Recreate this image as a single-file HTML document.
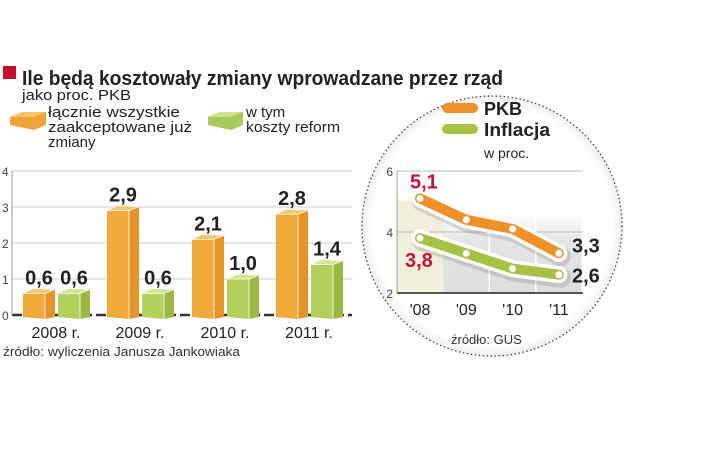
<!DOCTYPE html>
<html><head><meta charset="utf-8"><style>
html,body{margin:0;padding:0;background:#fff;}
svg{display:block;font-family:"Liberation Sans",sans-serif;}
</style></head><body>
<svg id="chart" width="720" height="456" viewBox="0 0 720 456">
<defs>
<radialGradient id="glow" cx="50%" cy="50%" r="50%"><stop offset="92%" stop-color="#fff"/><stop offset="100%" stop-color="#f0f0f0"/></radialGradient>
<linearGradient id="greyCol" x1="0" y1="0" x2="0" y2="1"><stop offset="0" stop-color="#fff"/><stop offset="0.35" stop-color="#e4e4e4"/><stop offset="1" stop-color="#dedede"/></linearGradient>
</defs>
<rect x="3" y="66" width="13" height="13" fill="#c8102e"/>
<text x="22" y="85" font-size="20" font-weight="bold" fill="#222" textLength="481" lengthAdjust="spacingAndGlyphs">Ile będą kosztowały zmiany wprowadzane przez rząd</text>
<text x="22" y="100" font-size="15" fill="#222" textLength="109" lengthAdjust="spacingAndGlyphs">jako proc. PKB</text>
<g>
<path d="M10,117 L22,112 L46,112 L46,125 L34,130 L10,125 Z" fill="#eea33b"/><path d="M10,117 L22,112 L46,112 L34,117 Z" fill="#f7c46a"/>
<text font-size="15" fill="#222"><tspan x="48" y="117" textLength="132" lengthAdjust="spacingAndGlyphs">łącznie wszystkie</tspan><tspan x="48" y="132" textLength="144" lengthAdjust="spacingAndGlyphs">zaakceptowane już</tspan><tspan x="48" y="147">zmiany</tspan></text>
</g>
<g>
<path d="M208,117 L220,112 L243,112 L243,125 L231,130 L208,125 Z" fill="#a9c95a"/><path d="M208,117 L220,112 L243,112 L231,117 Z" fill="#cfe38c"/>
<text font-size="15" fill="#222"><tspan x="246" y="117">w tym</tspan><tspan x="246" y="132" textLength="94" lengthAdjust="spacingAndGlyphs">koszty reform</tspan></text>
</g>
<g id="bars"></g>
<text x="3" y="356" font-size="13" fill="#333" textLength="237" lengthAdjust="spacingAndGlyphs">źródło: wyliczenia Janusza Jankowiaka</text>
<circle cx="492" cy="226" r="130" fill="url(#glow)" stroke="#444" stroke-width="1.3" stroke-dasharray="1.5 2.5"/>
<g>
<rect x="442" y="103" width="36" height="10" rx="5" fill="#ef9127"/>
<text x="484" y="115" font-size="18" font-weight="bold" fill="#222">PKB</text>
<rect x="442" y="124" width="36" height="10" rx="5" fill="#a8c043"/>
<text x="484" y="136" font-size="18" font-weight="bold" fill="#222" textLength="66" lengthAdjust="spacingAndGlyphs">Inflacja</text>
<text x="484" y="158" font-size="14" fill="#222">w proc.</text>
</g>
<g id="lines"></g>
<text x="451" y="344" font-size="13" fill="#333">źródło: GUS</text>
</svg>
<script>
const barYears = ['2008 r.', '2009 r.', '2010 r.', '2011 r.'];
const totalCosts = [0.6, 2.9, 2.1, 2.8];
const reformCosts = [0.6, 0.6, 1.0, 1.4];
const barTicks = [0, 1, 2, 3, 4];
const lineYears = ["'08", "'09", "'10", "'11"];
const gdp = [5.1, 4.4, 4.1, 3.3];
const inflation = [3.8, 3.3, 2.8, 2.6];
const lineTicks = [2, 4, 6];
const NS = 'http://www.w3.org/2000/svg';
function mk(tag, attrs, parent, txt) {
  const e = document.createElementNS(NS, tag);
  for (const k in attrs) e.setAttribute(k, attrs[k]);
  if (txt !== undefined) e.textContent = txt;
  parent.appendChild(e); return e;
}
const fmt = v => v.toFixed(1).replace('.', ',');
const bg = document.getElementById('bars');
const by = v => 315 - v * 36;
barTicks.forEach(t => {
  const l = mk('line', {x1: 12, x2: 352, y1: by(t), y2: by(t), stroke: t === 0 ? '#333' : '#ccc', 'stroke-width': t === 0 ? 2.5 : 1, 'stroke-dasharray': t === 0 ? '10 4' : ''}, bg);
  
  
  const tx = mk('text', {x: 2, y: by(t) + 5, 'font-size': 12, fill: '#444'}, bg, String(t));
  
  
});
mk('line', {x1: 12, x2: 12, y1: 171, y2: 315, stroke: '#999', 'stroke-width': 1}, bg);
const groupX = [23, 107, 192, 276];
function box(x, v, front, side, top, name) {
  const g = mk('g', {}, bg);
  
  
  const y = by(v), w = 32, fw = 22, d = 5;
  mk('path', {d: `M${x},${y} L${x+fw},${y} L${x+fw},319 L${x},317 Z`, fill: front}, g);
  mk('path', {d: `M${x+fw},${y} L${x+w},${y-d+1} L${x+w},317 L${x+fw},319 Z`, fill: side}, g);
  mk('path', {d: `M${x},${y} L${x+10},${y-d} L${x+w},${y-d+1} L${x+fw},${y} Z`, fill: top, stroke: '#fff', 'stroke-width': 0.8}, g);
  mk('line', {x1: x+fw, x2: x+fw, y1: y, y2: 319, stroke: '#fff', 'stroke-width': 0.8}, g);
  const t = mk('text', {x: x + w / 2, y: y - 9, 'font-size': 20, 'font-weight': 'bold', fill: '#222', 'text-anchor': 'middle'}, g, fmt(v));
  
  
}
barYears.forEach((yr, i) => {
  const x = groupX[i];
  box(x, totalCosts[i], '#f2a93b', '#e8922a', '#f8c66d', 'bar-total-' + i);
  box(x + 35, reformCosts[i], '#b3cf5c', '#9bb843', '#d3e590', 'bar-reform-' + i);
  const t = mk('text', {x: x + 33, y: 338, 'font-size': 16, fill: '#222', 'text-anchor': 'middle'}, bg, yr);
  
  
});
const lg = document.getElementById('lines');
const lx = i => 420 + i * 46.3;
const ly = v => 293 - (v - 2) * 30.5;
mk('rect', {x: 397, y: ly(gdp[0]) + 2, width: 47, height: 293 - ly(gdp[0]) - 2, fill: '#f1f0dc'}, lg);
for (let i = 1; i < 4; i++) mk('rect', {x: 397 + i * 46.5, y: ly(4.6), width: 45, height: 293 - ly(4.6), fill: 'url(#greyCol)'}, lg);
lineTicks.forEach(t => {
  const l = mk('line', {x1: 397, x2: 583, y1: ly(t), y2: ly(t), stroke: t === 2 ? '#222' : '#bbb', 'stroke-width': t === 2 ? 1.5 : 1}, lg);
  
  
  const tx = mk('text', {x: 393, y: ly(t) + 5, 'font-size': 12, fill: '#444', 'text-anchor': 'end'}, lg, String(t));
  
  
});
mk('line', {x1: 397, x2: 397, y1: 171, y2: 293, stroke: '#999'}, lg);
function series(vals, color, name) {
  const pts = vals.map((v, i) => lx(i) + ',' + ly(v)).join(' ');
  mk('polyline', {points: pts, fill: 'none', stroke: '#000', 'stroke-opacity': 0.12, 'stroke-width': 20, 'stroke-linecap': 'round', 'stroke-linejoin': 'round', transform: 'translate(2,3)'}, lg);
  mk('polyline', {points: pts, fill: 'none', stroke: '#fff', 'stroke-width': 17, 'stroke-linecap': 'round', 'stroke-linejoin': 'round'}, lg);
  const p = mk('polyline', {points: pts, fill: 'none', stroke: color, 'stroke-width': 10, 'stroke-linecap': 'round', 'stroke-linejoin': 'round'}, lg);
  
  
  vals.forEach((v, i) => {
    const c = mk('circle', {cx: lx(i), cy: ly(v), r: 3.5, fill: '#fff', stroke: '#ccc', 'stroke-width': 0.5}, lg);
    
    
  });
}
series(gdp, '#ef9127', 'gdp');
series(inflation, '#a8c043', 'inflation');
function lbl(x, y, txt, color, name) {
  const t = mk('text', {x: x, y: y, 'font-size': 20, 'font-weight': 'bold', fill: color}, lg, txt);
  
  
}
lbl(410, ly(gdp[0]) - 10, fmt(gdp[0]), '#c8103e', 'gdp-first-label');
lbl(405, ly(inflation[0]) + 29, fmt(inflation[0]), '#c8103e', 'inflation-first-label');
lbl(572, ly(gdp[3]) - 1, fmt(gdp[3]), '#222', 'gdp-last-label');
lbl(572, ly(inflation[3]) + 8, fmt(inflation[3]), '#222', 'inflation-last-label');
lineYears.forEach((yr, i) => {
  const t = mk('text', {x: lx(i), y: 315, 'font-size': 16, fill: '#222', 'text-anchor': 'middle'}, lg, yr);
  
  
});
</script>
</body></html>
